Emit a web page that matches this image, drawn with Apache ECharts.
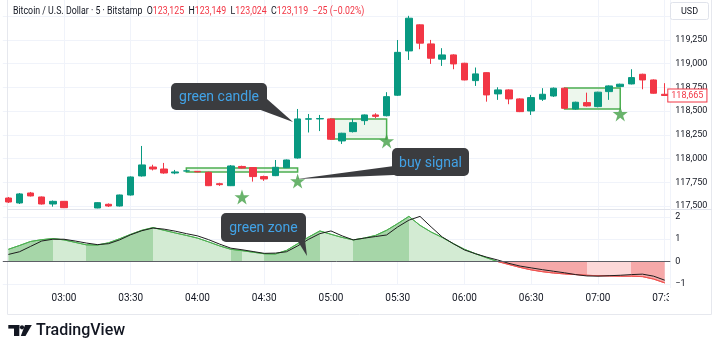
<!DOCTYPE html>
<html>
<head>
<meta charset="utf-8">
<script src="https://cdn.jsdelivr.net/npm/echarts@6/dist/echarts.min.js"></script>
<style>
html,body{margin:0;padding:0;background:#fff}
#main{width:720px;height:353px}
</style>
</head>
<body>
<div id="main"></div>
<script>
// 5 minute bars, 02:35 -> 07:30
var times = ['02:35','02:40','02:45','02:50','02:55','03:00','03:05','03:10','03:15','03:20','03:25','03:30',
  '03:35','03:40','03:45','03:50','03:55','04:00','04:05','04:10','04:15','04:20','04:25','04:30',
  '04:35','04:40','04:45','04:50','04:55','05:00','05:05','05:10','05:15','05:20','05:25','05:30',
  '05:35','05:40','05:45','05:50','05:55','06:00','06:05','06:10','06:15','06:20','06:25','06:30',
  '06:35','06:40','06:45','06:50','06:55','07:00','07:05','07:10','07:15','07:20','07:25','07:30'];

// [open, high, low, close]
var ohlc = [
  [117584,117595,117532,117542],[117532,117637,117521,117627],[117637,117648,117600,117606],
  [117595,117600,117515,117521],[117521,117558,117493,117549],[117549,117552,117478,117482],
  null, null,
  [117479,117540,117476,117535],[117518,117527,117490,117500],[117500,117620,117495,117616],
  [117616,117812,117610,117806],[117817,118133,117810,117933],[117911,117935,117875,117890],
  [117890,117954,117840,117848],[117848,117880,117835,117859],[117869,117875,117862,117870],
  [117865,117868,117855,117860],[117855,117862,117710,117714],[117735,117745,117712,117725],
  [117714,117932,117710,117922],[117917,117925,117895,117900],[117905,117910,117757,117810],
  [117810,117820,117765,117785],[117820,117985,117815,117908],[117904,117990,117900,117985],
  [118006,118523,118000,118418],[118415,118470,118275,118420],[118418,118460,118290,118422],
  [118418,118425,118198,118204],[118186,118272,118154,118267],[118284,118418,118275,118379],
  [118400,118465,118355,118460],[118460,118478,118425,118445],[118452,118700,118445,118653],
  [118668,119250,118660,119120],[119135,119505,119040,119480],[119410,119415,119153,119217],
  [119209,119251,118998,119058],[119048,119164,118977,119093],[119093,119100,118942,118998],
  [119005,119010,118825,118829],[118822,118960,118766,118893],[118906,118910,118600,118671],
  [118682,118752,118619,118724],[118724,118730,118573,118629],[118629,118635,118490,118495],
  [118502,118671,118460,118643],[118626,118742,118608,118678],[118660,118750,118650,118742],
  [118742,118748,118525,118530],[118523,118600,118515,118594],[118590,118695,118548,118555],
  [118548,118705,118540,118700],[118706,118772,118619,118766],[118759,118790,118755,118784],
  [118787,118942,118782,118854],[118889,118895,118731,118829],[118829,118835,118684,118689],
  [118678,118795,118660,118665]
];

// oscillator (green / red) and its signal line (black)
var osc = [0.55,0.72,0.90,0.98,1.03,0.97,0.86,0.75,0.74,0.84,1.02,1.22,1.40,1.52,1.40,1.28,1.17,1.05,0.88,0.70,
  0.55,0.49,0.42,0.35,0.34,0.50,0.80,1.10,1.37,1.22,1.08,0.97,1.05,1.17,1.40,1.70,2.02,1.62,1.32,1.08,
  0.80,0.55,0.35,0.17,0.00,-0.13,-0.26,-0.37,-0.45,-0.51,-0.55,-0.58,-0.61,-0.63,-0.64,-0.65,-0.65,-0.67,-0.78,-0.95];
var signal = [0.32,0.44,0.68,0.92,1.00,1.00,0.92,0.83,0.76,0.80,0.97,1.20,1.38,1.50,1.45,1.36,1.25,1.15,0.98,0.78,
  0.60,0.53,0.45,0.37,0.38,0.44,0.70,1.00,1.25,1.37,1.15,0.97,1.05,1.12,1.19,1.55,1.85,2.02,1.55,1.10,
  0.80,0.52,0.35,0.20,0.07,-0.08,-0.20,-0.28,-0.36,-0.43,-0.50,-0.58,-0.64,-0.65,-0.63,-0.61,-0.58,-0.56,-0.65,-0.83];

// shaded zones of the oscillator fill: [from index, to index, shade]
var zones = [[0,4,'dark'],[4,7,'light'],[7,13,'dark'],[13,20,'light'],[20,21,'dark'],[21,23,'light'],
  [23,28,'dark'],[28,31,'light'],[31,36,'dark'],[36,44,'light'],[44,52,'red'],[52,56,'pink'],[56,59,'red']];

// buy signals [index, price] and drawn boxes [i0, p0, i1, p1]
var stars = [[21,117595],[26,117764],[34,118186],[55,118471]];
var boxes = [[16,117901,26,117859],[29,118418,34,118207],[50,118745,55,118523]];

var header = {name:'Bitcoin / U.S. Dollar · 5 · Bitstamp', o:'123,125', h:'123,149', l:'123,024', c:'123,119', chg:'−25 (−0.02%)'};

var UP = '#089981', DOWN = '#f23645';
var shade = {dark:'#a6d6a8', light:'#d3ebd3', red:'#f6a9a9', pink:'#fcd8d8'};

var candleData = ohlc.map(function (d) {
  return d ? [d[0], d[3], d[2], d[1]] : ['-','-','-','-'];
});
var lastClose = ohlc[ohlc.length - 1][3];
var oscPairs = osc.map(function (v, i) { return [i, v]; });
var labelEvery = function (i) { return i % 6 === 5; };
var gridCol = '#f0f3fa';

var chart = echarts.init(document.getElementById('main'));

var option = {
  animation: false,
  grid: [
    {left: 2.8, width: 667.5, top: 0, height: 229.7},
    {left: 2.8, width: 667.5, top: 209, height: 75}
  ],
  xAxis: [
    {type:'category', gridIndex:0, data:times, boundaryGap:true,
      axisLine:{show:false}, axisTick:{show:false}, axisLabel:{show:false},
      splitLine:{show:true, interval:labelEvery, alignWithLabel:true, lineStyle:{color:gridCol}}},
    {type:'category', gridIndex:1, data:times, boundaryGap:true,
      axisLine:{show:false}, axisTick:{show:false},
      axisLabel:{interval:labelEvery, fontSize:10, color:'#131722', margin:9, fontFamily:'Roboto'},
      splitLine:{show:true, interval:labelEvery, alignWithLabel:true, lineStyle:{color:gridCol}}}
  ],
  yAxis: [
    {type:'value', gridIndex:0, position:'right', min:117250, max:119672, interval:250,
      axisLine:{show:false}, axisTick:{show:false},
      splitLine:{lineStyle:{color:gridCol}, showMinLine:false, showMaxLine:false},
      axisLabel:{fontSize:9, color:'#131722', margin:5, fontFamily:'Roboto',
        formatter:function (v) { return (v < 117500 || v > 119250 || v % 250) ? '' : v.toLocaleString('en-US'); }}},
    {type:'value', gridIndex:1, position:'right', min:-1, max:2.35, interval:1,
      axisLine:{show:false}, axisTick:{show:false},
      splitLine:{lineStyle:{color:gridCol}, showMaxLine:false},
      axisLabel:{fontSize:9, color:'#131722', margin:5, fontFamily:'Roboto',
        formatter:function (v) { if (v % 1) return ''; return v < 0 ? '−' + Math.abs(v) : String(v); }}}
  ],
  visualMap: [
    {type:'piecewise', show:false, seriesIndex:2, dimension:0,
      pieces: zones.map(function (z, k) {
        var p = {gte:z[0], color:shade[z[2]]};
        if (k === zones.length - 1) p.lte = z[1]; else p.lt = z[1];
        return p;
      })},
    {type:'piecewise', show:false, seriesIndex:3, dimension:1,
      pieces:[{gte:0, lte:3, color:'#4caf50'}, {gte:-3, lt:0, color:'#ef5350'}]}
  ],
  series: [
    {type:'candlestick', xAxisIndex:0, yAxisIndex:0, data:candleData, barWidth:7,
      itemStyle:{color:UP, color0:DOWN, borderColor:UP, borderColor0:DOWN, borderWidth:1},
      markArea:{silent:true,
        itemStyle:{color:'rgba(76,175,80,0.10)', borderColor:'#4caf50', borderWidth:1.5},
        data: boxes.map(function (b) { return [{coord:[b[0], b[1]]}, {coord:[b[2], b[3]]}]; })},
      markLine:{silent:true, symbol:['none','none'], lineStyle:{color:'rgba(0,0,0,0)', type:'solid'},
        label:{show:true, position:'end', distance:-2, color:DOWN, fontSize:9, fontFamily:'Roboto',
          backgroundColor:'#fff', borderColor:DOWN, borderWidth:1, padding:[2,3,1,3],
          formatter:function () { return lastClose.toLocaleString('en-US'); }},
        data:[{yAxis:lastClose}]}},
    {type:'scatter', xAxisIndex:0, yAxisIndex:0, data:stars, symbolSize:15, z:5,
      symbol:'path://M50,0 L61.8,35.3 L99,35.3 L68.9,57.1 L80.4,92.6 L50,70.6 L19.6,92.6 L31.1,57.1 L1,35.3 L38.2,35.3 Z',
      itemStyle:{color:'#43a047'}},
    {type:'line', xAxisIndex:1, yAxisIndex:1, data:oscPairs, symbol:'none',
      lineStyle:{opacity:0}, areaStyle:{opacity:1}},
    {type:'line', xAxisIndex:1, yAxisIndex:1, data:oscPairs, symbol:'none', lineStyle:{width:1}},
    {type:'line', xAxisIndex:1, yAxisIndex:1, data:signal, symbol:'none',
      lineStyle:{width:1, color:'#1e1e1e'}, itemStyle:{color:'#1e1e1e'},
      markLine:{silent:true, symbol:['none','none'], label:{show:false},
        lineStyle:{color:'#5d5f66', type:'solid', width:1}, data:[{yAxis:0}]}}
  ]
};
chart.setOption(option);

function callout(x, y, w, h, text, tail) {
  var box = '#3b3c3f';
  return [
    {type:'polygon', z:100, shape:{points:tail}, style:{fill:box}},
    {type:'rect', z:100, shape:{x:x, y:y, width:w, height:h, r:5}, style:{fill:box}},
    {type:'text', z:101, x:x + w / 2, y:y + h / 2 + 1,
      style:{text:text, fill:'#42a2e6', fontSize:14, fontFamily:'Roboto', align:'center', verticalAlign:'middle'}}
  ];
}

var g = [
  {type:'polyline', z:1, shape:{points:[[7.5,0],[7.5,314.5],[711.5,314.5],[711.5,0]]}, style:{stroke:'#e6e8ee', fill:null, lineWidth:1}},
  {type:'line', z:1, shape:{x1:7, y1:209.5, x2:712, y2:209.5}, style:{stroke:'#e0e3eb', lineWidth:1}},
  {type:'line', z:1, shape:{x1:670.5, y1:0, x2:670.5, y2:288}, style:{stroke:'#f0f3fa', lineWidth:1}},
  {type:'rect', z:50, shape:{x:669, y:288, width:42, height:25}, style:{fill:'#fff'}},
  {type:'rect', z:50, shape:{x:670.5, y:2.5, width:38, height:17, r:2}, style:{fill:'#fff', stroke:'#e0e3eb', lineWidth:1}},
  {type:'text', z:51, x:689.5, y:11.5, style:{text:'USD', fill:'#131722', fontSize:9, fontFamily:'Roboto', align:'center', verticalAlign:'middle'}},
  {type:'text', z:60, x:13, y:11, scaleX:0.88,
    style:{
      text:'{n|' + header.name + '}  {n|O}{r|' + header.o + '}  {n|H}{r|' + header.h + '}  {n|L}{r|' + header.l +
        '}  {n|C}{r|' + header.c + '}  {r|' + header.chg + '}',
      fontSize:10, fontFamily:'Roboto', verticalAlign:'middle',
      rich:{n:{fill:'#131722', fontSize:10, fontFamily:'Roboto'}, r:{fill:'#f23645', fontSize:10, fontFamily:'Roboto'}}}},
  // TradingView logo
  {type:'rect', z:60, shape:{x:8.3, y:325, width:11, height:3.6}, style:{fill:'#131722'}},
  {type:'rect', z:60, shape:{x:14, y:325, width:5.3, height:11}, style:{fill:'#131722'}},
  {type:'circle', z:60, shape:{cx:22, cy:327.3, r:2.1}, style:{fill:'#131722'}},
  {type:'polygon', z:60, shape:{points:[[25,325],[31.8,325],[25.5,336],[20.8,336]]}, style:{fill:'#131722'}},
  {type:'text', z:60, x:36, y:331, style:{text:'TradingView', fill:'#131722', fontSize:16, fontWeight:500, fontFamily:'Roboto', verticalAlign:'middle'}}
];
g = g.concat(
  callout(171, 83, 96, 27, 'green candle', [[258,109],[267,99],[293,122]]),
  callout(392, 148, 77, 28, 'buy signal', [[394,166],[394,175],[297,179]]),
  callout(221, 213, 85, 29, 'green zone', [[297,240],[305,240],[307,256]])
);
chart.setOption({graphic:g});
</script>
</body>
</html>
